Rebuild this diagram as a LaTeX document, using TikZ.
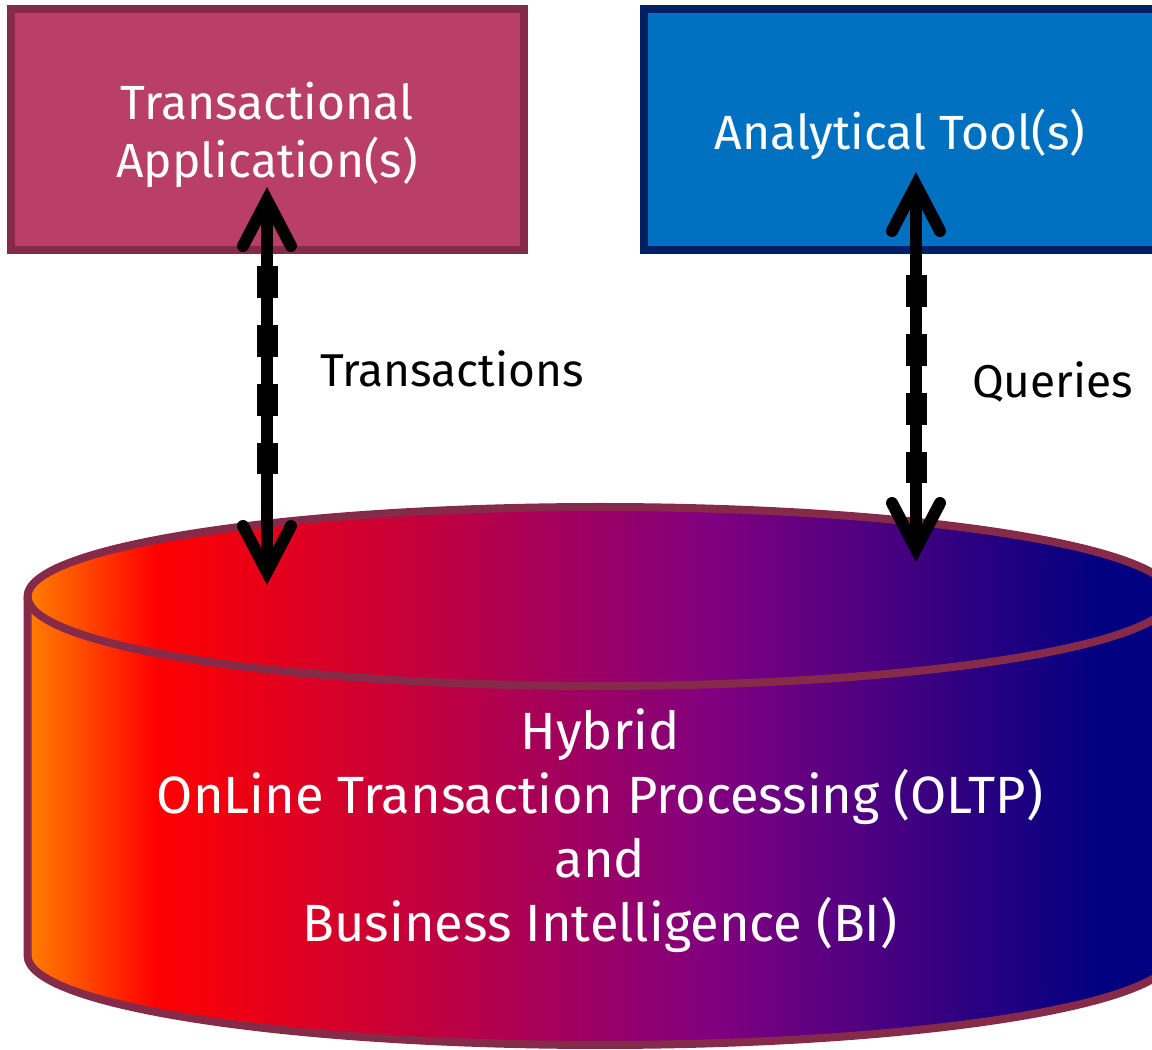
\documentclass[tikz,border=0pt]{standalone}
\usepackage{fontspec}
\setmainfont{Fira Sans}
\usetikzlibrary{calc}

\definecolor{appfill}{HTML}{B93E68}
\definecolor{appline}{HTML}{862A4A}
\definecolor{toolfill}{HTML}{0070C0}
\definecolor{toolline}{HTML}{002060}
\definecolor{cylline}{HTML}{862A4A}
\definecolor{cylA}{HTML}{FF8000}
\definecolor{cylB}{HTML}{FF0000}
\definecolor{cylC}{HTML}{800080}
\definecolor{cylD}{HTML}{000080}

\pgfdeclarehorizontalshading{cylshade}{100bp}{%
  color(0bp)=(cylA); color(25bp)=(cylA); color(30.6bp)=(cylB);
  color(55bp)=(cylC); color(72bp)=(cylD); color(100bp)=(cylD)}

\tikzset{
  boxtext/.style={font=\fontsize{48}{58}\selectfont, text=white, align=center, inner sep=0pt},
  cyltext/.style={font=\fontsize{52.4}{64.3}\selectfont, text=white, align=center, inner sep=0pt},
  flowlabel/.style={font=\fontsize{46}{54}\selectfont, text=black, anchor=base west, inner sep=0pt},
  shaft/.style={line width=12pt, black},
  dashes/.style={line width=21pt, black, dash pattern=on 32pt off 27pt},
  head/.style={line width=12pt, black, line cap=round, line join=miter},
}

\begin{document}
\begin{tikzpicture}[x=1pt,y=1pt]
\useasboundingbox (0,0) rectangle (1152,1050);
\clip (0,0) rectangle (1152,1050);

% application and tool boxes
\draw[appline, fill=appfill, line width=8pt] (11,800) rectangle (524,1040.5);
\node[boxtext, anchor=base] (app) at (267,872) {Transactional\\Application(s)};
\draw[toolline, fill=toolfill, line width=8pt] (644,800) rectangle (1170,1040.5);
\node[boxtext, anchor=base] (tool) at (900,900) {Analytical Tool(s)};

% database cylinder
\path[shading=cylshade]
  (27.5,453.5) arc[start angle=180, end angle=0, x radius=572.5, y radius=89.5]
  -- (1172.5,94.5) arc[start angle=0, end angle=-180, x radius=572.5, y radius=89.5]
  -- cycle;
\draw[cylline, line width=8pt, line join=round]
  (27.5,453.5) arc[start angle=180, end angle=0, x radius=572.5, y radius=89.5]
  -- (1172.5,94.5) arc[start angle=0, end angle=-180, x radius=572.5, y radius=89.5]
  -- cycle;
\draw[cylline, line width=8pt]
  (27.5,453.5) arc[start angle=180, end angle=360, x radius=572.5, y radius=89.5];
\node[cyltext, anchor=base] (db) at (600,108)
  {Hybrid\\OnLine Transaction Processing (OLTP)\\and\\Business Intelligence (BI)};

% arrow end points
\coordinate (tA) at (267,850);
\coordinate (tB) at (267,478);
\coordinate (qA) at (916,865);
\coordinate (qB) at (916,501);

% transactions connector
\draw[shaft] (tA) -- (tB);
\draw[dashes] (267,784) -- (267,576);
\draw[head] ($(tA)+(-24,-46)$) -- (tA) -- ($(tA)+(24,-46)$);
\draw[head] ($(tB)+(-24,46)$) -- (tB) -- ($(tB)+(24,46)$);
\node[flowlabel] (tlab) at (320,663) {Transactions};

% queries connector
\draw[shaft] (qA) -- (qB);
\draw[dashes] (916,775) -- (916,567);
\draw[head] ($(qA)+(-24,-46)$) -- (qA) -- ($(qA)+(24,-46)$);
\draw[head] ($(qB)+(-24,46)$) -- (qB) -- ($(qB)+(24,46)$);
\node[flowlabel] (qlab) at (972,652) {Queries};
\end{tikzpicture}
\end{document}
